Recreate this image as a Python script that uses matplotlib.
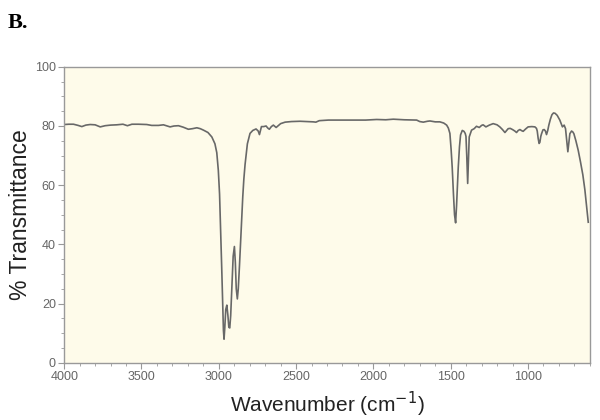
import matplotlib
matplotlib.use("Agg")
import matplotlib.pyplot as plt
from matplotlib.ticker import MultipleLocator

plt.rcParams['font.family'] = ['Liberation Sans', 'DejaVu Sans']

# IR spectrum (wavenumber cm-1, % transmittance)
wavenumber = [
    4000, 3970, 3940, 3910, 3886, 3860, 3832, 3800, 3767, 3735, 3700, 3660,
    3620, 3591, 3562, 3520, 3466, 3434, 3390, 3358, 3315, 3290, 3261, 3230,
    3197, 3170, 3142, 3120, 3099, 3070, 3045, 3025, 3013, 3003, 2995, 2988,
    2981, 2975, 2970, 2966, 2961, 2955, 2948, 2941, 2935, 2929, 2923, 2915,
    2907, 2899, 2893, 2887, 2880, 2874, 2866, 2858, 2852, 2845, 2838, 2830,
    2815, 2798, 2780, 2759, 2745, 2737, 2730, 2724, 2710, 2694, 2683, 2673,
    2660, 2647, 2629, 2600, 2571, 2530, 2474, 2430, 2389, 2372, 2350, 2291,
    2200, 2130, 2050, 1979, 1920, 1871, 1800, 1720, 1700, 1677, 1650, 1634,
    1600, 1570, 1545, 1526, 1515, 1505, 1497, 1490, 1482, 1475, 1468, 1462,
    1456, 1451, 1443, 1436, 1425, 1414, 1406, 1401, 1396, 1390, 1385, 1380,
    1365, 1348, 1333, 1315, 1300, 1290, 1272, 1250, 1225, 1200, 1182, 1165,
    1149, 1138, 1128, 1115, 1100, 1085, 1074, 1063, 1052, 1040, 1031, 1015,
    999, 975, 955, 945, 940, 934, 928, 923, 917, 912, 903, 895,
    887, 880, 872, 865, 855, 845, 835, 825, 811, 800, 794, 785,
    777, 766, 757, 750, 742, 736, 729, 718, 710, 703, 690, 675,
    660, 645, 632, 620, 610,
]
transmittance = [
    80.5, 80.6, 80.6, 80.2, 79.8, 80.3, 80.5, 80.4, 79.7, 80.1, 80.3, 80.4,
    80.6, 80.1, 80.6, 80.6, 80.5, 80.2, 80.2, 80.4, 79.7, 80.0, 80.1, 79.6,
    78.9, 79.1, 79.4, 79.1, 78.6, 77.8, 76.3, 74.0, 71.0, 65.0, 57.0, 45.0,
    32.0, 20.0, 11.0, 8.0, 12.0, 18.0, 19.5, 16.0, 12.0, 11.8, 16.0, 26.0,
    36.0, 39.3, 34.0, 25.0, 21.6, 25.0, 33.0, 42.0, 48.0, 56.0, 62.0, 67.0,
    74.0, 77.5, 78.5, 79.0, 78.3, 77.1, 78.5, 79.8, 79.8, 80.0, 79.3, 78.9,
    79.8, 80.3, 79.5, 80.8, 81.3, 81.5, 81.6, 81.5, 81.4, 81.3, 81.8, 82.0,
    82.0, 82.0, 82.0, 82.2, 82.1, 82.3, 82.1, 82.0, 81.5, 81.3, 81.6, 81.7,
    81.4, 81.4, 81.0, 80.3, 79.3, 77.5, 72.0, 66.0, 57.0, 50.0, 47.3, 53.0,
    60.0, 66.0, 73.0, 77.0, 78.5, 78.2, 77.5, 76.5, 70.0, 60.6, 68.0, 76.3,
    78.6, 79.1, 79.9, 79.5, 80.2, 80.4, 79.7, 80.3, 80.8, 80.4, 79.7, 78.8,
    77.8, 78.5, 79.1, 79.2, 78.8, 78.3, 77.8, 78.5, 78.8, 78.4, 78.2, 79.0,
    79.7, 79.8, 79.7, 79.2, 78.3, 75.8, 74.1, 74.5, 76.5, 77.4, 78.7, 78.8,
    78.3, 77.1, 78.5, 80.3, 82.3, 83.8, 84.4, 84.3, 83.6, 82.6, 82.0, 80.8,
    79.7, 80.3, 79.1, 75.5, 71.3, 74.0, 77.4, 78.3, 78.0, 77.4, 75.0, 71.8,
    67.8, 63.5, 58.5, 52.5, 47.5,
]

x_ticks = [4000, 3500, 3000, 2500, 2000, 1500, 1000]
y_ticks = [0, 20, 40, 60, 80, 100]

fig = plt.figure(figsize=(6, 4.2), dpi=100)
ax = fig.add_axes([0.107, 0.136, 0.876, 0.705])
ax.set_facecolor('#fefbea')

ax.plot(wavenumber, transmittance, color='#686868', lw=1.2)

ax.set_xlim(4000, 600)
ax.set_ylim(0, 100)
ax.set_xticks(x_ticks)
ax.set_yticks(y_ticks)
ax.xaxis.set_minor_locator(MultipleLocator(100))
ax.yaxis.set_minor_locator(MultipleLocator(5))

for s in ax.spines.values():
    s.set_color('#999999')
    s.set_linewidth(1.0)
ax.tick_params(which='both', colors='#999999', labelcolor='#666666',
               labelsize=9, direction='out')
ax.tick_params(which='major', length=4, pad=2)
ax.tick_params(which='minor', length=2.5)

ax.set_xlabel('Wavenumber (cm$^{-1}$)', fontsize=15, color='#222222')
ax.xaxis.set_label_coords(0.5, -0.092)
ax.set_ylabel('% Transmittance', fontsize=16.5, color='#222222')
ax.yaxis.set_label_coords(-0.061, 0.5)

fig.text(0.013, 0.945, 'B.', fontsize=16, fontweight='bold',
         family='Liberation Serif', va='center', ha='left')

fig.savefig('out.png', dpi=100)
